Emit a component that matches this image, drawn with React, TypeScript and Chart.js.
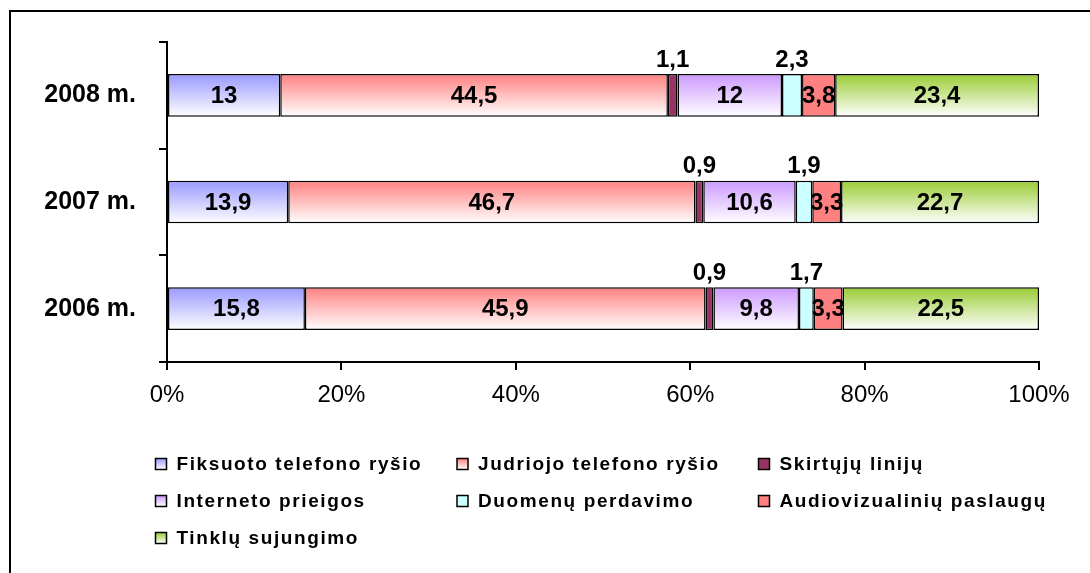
import React, { useEffect, useRef } from 'react';
import { Chart, registerables } from 'chart.js';

Chart.register(...registerables);

const FONT = '"Liberation Sans", Arial, Helvetica, sans-serif';

const categories = ['2008 m.', '2007 m.', '2006 m.'];
const seriesNames = [
  'Fiksuoto telefono ryšio',
  'Judriojo telefono ryšio',
  'Skirtųjų linijų',
  'Interneto prieigos',
  'Duomenų perdavimo',
  'Audiovizualinių paslaugų',
  'Tinklų sujungimo',
];
const fiksuoto = [13, 13.9, 15.8];
const judriojo = [44.5, 46.7, 45.9];
const skirtuju = [1.1, 0.9, 0.9];
const interneto = [12, 10.6, 9.8];
const duomenu = [2.3, 1.9, 1.7];
const audiovizualiniu = [3.8, 3.3, 3.3];
const tinklu = [23.4, 22.7, 22.5];
const xTickValues = [0, 20, 40, 60, 80, 100];

const seriesValues = [fiksuoto, judriojo, skirtuju, interneto, duomenu, audiovizualiniu, tinklu];
const seriesColors = ['#9999FF', '#FF8080', '#993366', '#CC99FF', '#CCFFFF', '#FF8080', '#99CC33'];
const seriesGradient = [true, true, false, true, false, false, true];
const seriesLabelAbove = [false, false, true, false, true, false, false];

const totals = categories.map((_, i) => seriesValues.reduce((s, arr) => s + arr[i], 0));

const fmt = (v: number) => String(v).replace('.', ',');

const BAR_PCT = 0.4;

const framePlugin = {
  id: 'frame',
  beforeDraw(chart: any) {
    const ctx = chart.ctx;
    ctx.save();
    ctx.fillStyle = '#ffffff';
    ctx.fillRect(0, 0, chart.width, chart.height);
    ctx.strokeStyle = '#000';
    ctx.lineWidth = 2;
    ctx.strokeRect(10, 11, 2000, 2000);
    ctx.restore();
  },
};

const barLabelPlugin = {
  id: 'barLabels',
  afterDatasetDraw(chart: any, args: any) {
    const di = args.index;
    const meta = args.meta;
    const ctx = chart.ctx;
    ctx.save();
    ctx.font = `bold 24px ${FONT}`;
    ctx.fillStyle = '#000';
    ctx.textAlign = 'center';
    ctx.textBaseline = 'middle';
    meta.data.forEach((el: any, i: number) => {
      const props = el.getProps(['x', 'y', 'base', 'height'], true);
      const cx = (props.x + props.base) / 2;
      const txt = fmt(seriesValues[di][i]);
      if (seriesLabelAbove[di]) {
        ctx.fillText(txt, cx, props.y - props.height / 2 - 14);
      } else {
        ctx.fillText(txt, cx, props.y + 1);
      }
    });
    ctx.restore();
  },
};

const legendPlugin = {
  id: 'gridLegend',
  afterDraw(chart: any) {
    const ctx = chart.ctx;
    ctx.save();
    ctx.font = `bold 19px ${FONT}`;
    ctx.textBaseline = 'middle';
    ctx.textAlign = 'left';
    seriesNames.forEach((name, i) => {
      const col = i % 3;
      const row = Math.floor(i / 3);
      const bx = 155.5 + col * 301.5;
      const cy = 464 + row * 37;
      const by = cy - 5.5;
      let fill: any = seriesColors[i];
      if (seriesGradient[i]) {
        const g = ctx.createLinearGradient(0, by, 0, by + 11);
        g.addColorStop(0, seriesColors[i]);
        g.addColorStop(1, '#ffffff');
        fill = g;
      }
      ctx.fillStyle = fill;
      ctx.fillRect(bx, by, 11, 11);
      ctx.strokeStyle = '#000';
      ctx.lineWidth = 1.5;
      ctx.strokeRect(bx, by, 11, 11);
      ctx.fillStyle = '#000';
      try { (ctx as any).letterSpacing = '1.6px'; } catch (e) {}
      ctx.fillText(name, bx + 21, cy + 1);
      try { (ctx as any).letterSpacing = '0px'; } catch (e) {}
    });
    ctx.restore();
  },
};

export default function App() {
  const ref = useRef<HTMLCanvasElement | null>(null);

  useEffect(() => {
    const canvas = ref.current;
    if (!canvas) return;

    const datasets = seriesNames.map((name, si) => ({
      label: name,
      data: seriesValues[si].map((v, i) => (v / totals[i]) * 100),
      borderColor: '#000',
      borderWidth: 1.5,
      borderSkipped: false,
      categoryPercentage: 1,
      barPercentage: BAR_PCT,
      backgroundColor: (c: any) => {
        const color = seriesColors[si];
        if (!seriesGradient[si]) return color;
        const chart = c.chart;
        const y = chart.scales && chart.scales.y;
        if (!chart.chartArea || !y || c.dataIndex === undefined) return color;
        const center = y.getPixelForValue(c.dataIndex);
        const band = Math.abs(y.getPixelForValue(1) - y.getPixelForValue(0)) || 100;
        const h = band * BAR_PCT;
        if (!isFinite(center)) return color;
        const g = chart.ctx.createLinearGradient(0, center - h / 2, 0, center + h / 2);
        g.addColorStop(0, color);
        g.addColorStop(1, '#ffffff');
        return g;
      },
    }));

    const chart = new Chart(canvas, {
      type: 'bar',
      data: { labels: categories, datasets },
      options: {
        indexAxis: 'y',
        responsive: false,
        animation: false,
        devicePixelRatio: 1,
        layout: { padding: { left: 0, top: 42, right: 51, bottom: 151 } },
        plugins: {
          legend: { display: false },
          tooltip: { enabled: false },
        },
        scales: {
          x: {
            stacked: true,
            min: 0,
            max: 100,
            afterFit: (s: any) => { s.height = 60; },
            afterBuildTicks: (s: any) => { s.ticks = xTickValues.map((v) => ({ value: v })); },
            ticks: {
              callback: (v: any) => `${v}%`,
              color: '#000',
              padding: 11,
              font: { family: FONT, size: 24, weight: 'normal' },
              maxRotation: 0,
              autoSkip: false,
            },
            grid: { drawOnChartArea: false, tickLength: 8, color: '#000', lineWidth: 2 },
            border: { display: true, color: '#000', width: 2 },
          },
          y: {
            stacked: true,
            afterFit: (s: any) => { s.width = 167; },
            ticks: {
              color: '#000',
              padding: 23,
              font: { family: FONT, size: 25, weight: 'bold' },
            },
            grid: { drawOnChartArea: false, tickLength: 8, color: '#000', lineWidth: 2, offset: true },
            border: { display: true, color: '#000', width: 2 },
          },
        },
      } as any,
      plugins: [framePlugin, barLabelPlugin, legendPlugin],
    });

    return () => chart.destroy();
  }, []);

  return (
    <canvas
      ref={ref}
      width={1090}
      height={573}
      style={{ position: 'fixed', left: 0, top: 0, width: 1090, height: 573, display: 'block' }}
    />
  );
}
